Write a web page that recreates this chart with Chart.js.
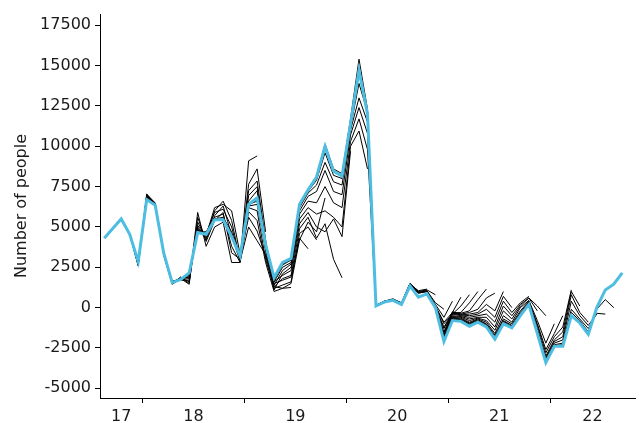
<!DOCTYPE html>
<html lang="en">
<head>
<meta charset="UTF-8">
<title>Number of people - vintages</title>
<script src="https://cdn.jsdelivr.net/npm/chart.js"></script>
<style>
    body { margin: 0; padding: 0; background: #fff; }
    .wrap { width: 640px; height: 423px; }
</style>
</head>
<body>
<div class="wrap"><canvas id="chart"></canvas></div>
<script>
// months of the data, Nov 2016 .. Dec 2021
const months = [
    'Nov16','Dec16',
    'Jan17','Feb17','Mar17','Apr17','May17','Jun17','Jul17','Aug17','Sep17','Oct17','Nov17','Dec17',
    'Jan18','Feb18','Mar18','Apr18','May18','Jun18','Jul18','Aug18','Sep18','Oct18','Nov18','Dec18',
    'Jan19','Feb19','Mar19','Apr19','May19','Jun19','Jul19','Aug19','Sep19','Oct19','Nov19','Dec19',
    'Jan20','Feb20','Mar20','Apr20','May20','Jun20','Jul20','Aug20','Sep20','Oct20','Nov20','Dec20',
    'Jan21','Feb21','Mar21','Apr21','May21','Jun21','Jul21','Aug21','Sep21','Oct21','Nov21','Dec21'
];
const fyLabels = ['17', '18', '19', '20', '21', '22'];
const yTicks = [-5000, -2500, 0, 2500, 5000, 7500, 10000, 12500, 15000, 17500];

// latest estimate (blue)
const latest = [
    4300, 4900, 5500, 4550, 2850, 6700, 6350, 3400, 1550, 1750, 2150, 4650,
    4550, 5450, 5450, 4400, 3200, 6400, 6800, 3900, 1850, 2800, 3050, 6400,
    7300, 8100, 10000, 8450, 8150, 11400, 14700, 12000, 100, 350, 450, 200,
    1350, 650, 850, 0, -2100, -800, -850, -1150, -900, -1200, -1950, -1000,
    -1250, -500, 200, -1600, -3400, -2400, -2400, -500, -950, -1650, 0, 1100,
    1450, 2150
];

// earlier estimates (black): first month index and values from there on
const vintageStart = [3, 3, 3, 3, 3, 3, 3, 3, 3, 3, 16, 16, 16, 16, 16,
    32, 32, 32, 32, 32, 32, 32, 39, 39, 39, 39, 39, 39, 39, 39, 39, 39, 39, 39, 39, 39, 39, 39];
const vintageValues = [
    [4550, 2600, 7050, 6450, 3300, 1500, 1900, 1500, 5900, 3800, 5000, 5300, 2800, 2800, 9100, 9400],
    [4550, 2650, 7000, 6500, 3250, 1450, 1800, 1450, 5600, 4100, 5400, 5900, 3400, 3000, 7650, 8600, 4700],
    [4550, 2700, 6950, 6400, 3300, 1600, 1700, 1700, 5300, 4300, 5700, 6300, 4500, 3100, 7250, 7850, 4200, 1100],
    [4550, 2750, 6900, 6350, 3350, 1550, 1750, 1800, 5100, 4400, 6000, 6600, 5400, 2900, 6950, 7500, 3800, 1300, 1200, 1250],
    [4550, 2800, 6850, 6400, 3300, 1500, 1800, 1900, 4900, 4500, 6200, 6400, 6000, 3300, 6600, 7250, 3500, 1500, 1700, 1900, 4300, 3650],
    [4550, 2850, 6800, 6350, 3400, 1650, 1750, 2000, 4800, 4600, 5900, 6100, 5000, 3000, 6200, 6000, 3000, 1200, 1400, 1600, 4600, 5000, 4200],
    [4550, 2600, 6900, 6450, 3350, 1550, 1850, 1600, 5000, 4200, 5600, 5800, 3800, 2800, 5950, 5400, 2800, 1000, 1200, 1500, 4200, 5300, 4700, 6800],
    [4550, 2700, 6800, 6400, 3300, 1500, 1750, 2100, 4700, 4700, 5500, 5600, 4700, 3100, 5600, 4750, 3200, 1300, 1800, 2000, 4900, 5600, 4300, 5200, 3000, 1850],
    [4550, 2750, 6750, 6350, 3400, 1600, 1800, 1900, 4750, 4550, 5450, 5500, 4400, 2900, 5000, 4150, 3300, 1600, 2000, 2300, 5200, 5900, 5000, 4700, 5500, 4400, 9700],
    [4550, 2850, 6700, 6350, 3400, 1550, 1750, 2150, 4650, 4550, 5450, 5450, 4400, 3200, 6300, 6400, 3600, 1100, 2100, 2500, 5500, 6200, 5800, 6000, 5600, 5000, 10000, 10950, 8600],
    [3200, 6400, 6600, 3800, 1400, 2300, 2700, 5800, 6600, 6500, 7500, 6500, 6200, 10300, 11700, 9800, 50],
    [3200, 6400, 6700, 3850, 1600, 2500, 2800, 6000, 6900, 7200, 8500, 7200, 7000, 10700, 12400, 10800, 100, 300],
    [3200, 6400, 6750, 3900, 1700, 2650, 2950, 6200, 7100, 7600, 9000, 7800, 7600, 11000, 13000, 11500, 100, 350, 500],
    [3200, 6450, 6850, 3950, 1850, 2800, 3050, 6400, 7300, 8100, 10150, 8600, 8300, 11700, 15400, 12300, 150, 400, 550, 300],
    [3200, 6350, 6750, 3850, 1800, 2700, 3000, 6300, 7200, 7900, 9600, 8200, 8000, 11200, 13900, 12100, 100, 400, 500, 250, 1500],
    [150, 400, 500, 300, 1500, 1000],
    [150, 400, 500, 250, 1450, 1050, 1150],
    [100, 350, 500, 250, 1500, 1000, 1100, 800],
    [100, 400, 450, 250, 1400, 950, 1050, 300, -100],
    [100, 350, 500, 200, 1400, 900, 1000, 200, -600, 400],
    [100, 350, 450, 200, 1450, 950, 1050, 100, -900, -300, 650],
    [100, 350, 450, 200, 1400, 900, 1000, 100, -1000, -400, 100, 800],
    [0, -1200, -350, -300, 300, 1000],
    [0, -1300, -300, -350, -200, 500, 1150],
    [0, -1500, -250, -400, -300, -100, 600, 900],
    [0, -1600, -300, -450, -400, -300, 200, -200, 1000],
    [0, -1700, -350, -450, -500, -400, -100, -600, 700, 0],
    [0, -1800, -400, -500, -600, -500, -400, -900, 400, -300, 300, 700],
    [0, -1900, -500, -550, -700, -600, -600, -1200, 100, -500, 200, 600, -200],
    [0, -2000, -550, -600, -800, -650, -800, -1400, -200, -700, 100, 600, 100, -500],
    [0, -2050, -600, -650, -900, -700, -900, -1600, -500, -900, 0, 450, -800, -2200, -1000],
    [0, -2100, -650, -700, -950, -750, -1000, -1700, -700, -1000, -200, 400, -1000, -2600, -1600, -500],
    [0, -2100, -700, -750, -1000, -800, -1050, -1800, -800, -1100, -300, 350, -1100, -2800, -1800, -1200, 1100],
    [0, -2100, -750, -800, -1050, -850, -1100, -1850, -850, -1150, -400, 300, -1300, -3000, -2000, -1500, 1000, 100],
    [0, -2100, -750, -800, -1100, -850, -1150, -1900, -900, -1200, -450, 250, -1400, -3100, -2100, -1800, 800, -300, -900],
    [0, -2100, -800, -850, -1100, -900, -1150, -1900, -950, -1200, -450, 250, -1500, -3200, -2200, -2000, 400, -500, -1100, -400],
    [0, -2100, -800, -850, -1150, -900, -1200, -1950, -1000, -1250, -500, 200, -1550, -3300, -2300, -2200, -100, -700, -1300, -350, -400],
    [0, -2100, -800, -850, -1150, -900, -1200, -1950, -1000, -1250, -500, 200, -1600, -3350, -2350, -2300, -300, -800, -1500, -100, 500, 0]
];

// financial year boundaries: between March and April
const xMin = -0.5;
const xMax = months.length + 0.5;
const bounds = [];
months.forEach((m, i) => { if (i > 0 && m.startsWith('Apr')) bounds.push(i - 0.5); });
const edges = [xMin, ...bounds, xMax];
const mids = fyLabels.map((l, i) => (edges[i] + edges[i + 1]) / 2);

const font = { family: 'DejaVu Sans', size: 16 };
const textColor = '#1a1a1a';

const datasets = [{
    data: latest.map((v, i) => ({ x: i, y: v })),
    borderColor: '#4dbde2',
    borderWidth: 3,
    pointRadius: 0,
    order: 0
}];
vintageValues.forEach((vals, k) => {
    datasets.push({
        data: vals.map((v, j) => ({ x: vintageStart[k] + j, y: v })),
        borderColor: '#000',
        borderWidth: 1,
        pointRadius: 0,
        order: 1
    });
});

new Chart(document.getElementById('chart'), {
    type: 'line',
    data: { datasets: datasets },
    options: {
        responsive: true,
        maintainAspectRatio: false,
        animation: false,
        layout: { padding: { top: 14, right: 5, left: 0, bottom: 0 } },
        plugins: { legend: { display: false }, tooltip: { enabled: false } },
        scales: {
            x: {
                type: 'linear',
                min: xMin,
                max: xMax,
                afterBuildTicks: s => {
                    s.ticks = [...bounds, ...mids].sort((a, b) => a - b).map(v => ({ value: v }));
                },
                afterFit: s => { s.height = 25; },
                ticks: {
                    autoSkip: false,
                    maxRotation: 0,
                    padding: 4,
                    font: font,
                    color: textColor,
                    callback: v => {
                        const i = mids.indexOf(v);
                        return i >= 0 ? fyLabels[i] : '';
                    }
                },
                grid: {
                    drawOnChartArea: false,
                    tickLength: 5,
                    color: ctx => (ctx.tick && bounds.includes(ctx.tick.value)) ? '#000' : 'rgba(0,0,0,0)'
                },
                border: { color: '#000', width: 1 }
            },
            y: {
                min: -5600,
                max: 18200,
                afterBuildTicks: s => { s.ticks = yTicks.map(v => ({ value: v })); },
                afterFit: s => { s.width = 100; },
                ticks: { padding: 4, font: font, color: textColor, callback: v => String(v) },
                grid: { drawOnChartArea: false, tickLength: 5, color: '#000' },
                border: { color: '#000', width: 1 },
                title: {
                    display: true,
                    text: 'Number of people',
                    font: font,
                    color: textColor,
                    padding: { top: 12, bottom: 0 }
                }
            }
        }
    }
});
</script>
</body>
</html>
